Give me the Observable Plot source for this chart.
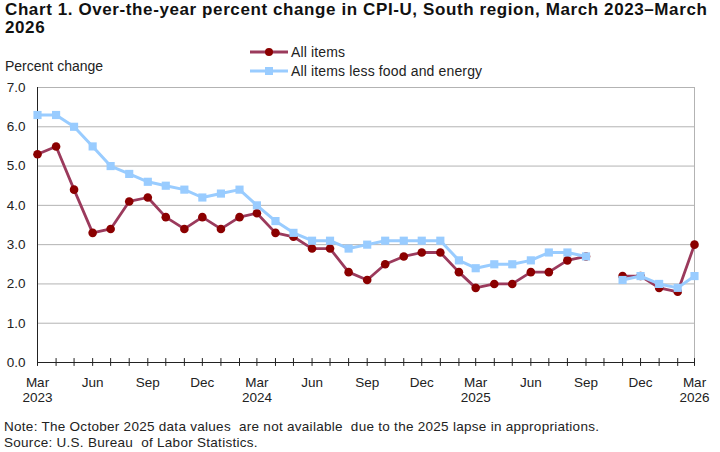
<!DOCTYPE html>
<html>
<head>
<meta charset="utf-8">
<script src="https://cdn.jsdelivr.net/npm/d3@7"></script>
<script src="https://cdn.jsdelivr.net/npm/@observablehq/plot@0.6"></script>
<style>
  body { margin: 0; background: #fff; font-family: "Liberation Sans", Arial, sans-serif; }
  #wrap { position: relative; width: 720px; height: 452px; overflow: hidden; background: #fff; }
  #title { position: absolute; left: 5px; top: 1px; font-weight: bold; font-size: 17px; letter-spacing: 0.6px; line-height: 18px; color: #111; width: 715px; z-index: 2; white-space: nowrap; }
  #chart { position: absolute; left: 0; top: 40px; z-index: 1; }
  .leg { position: absolute; font-size: 14px; letter-spacing: 0.15px; color: #222; white-space: nowrap; z-index: 2; }
  .leg svg { position: absolute; left: 0; top: 0; }
  #ylab { position: absolute; left: 5px; top: 58px; font-size: 14px; color: #222; z-index: 2; }
  #note { position: absolute; left: 4px; top: 419px; font-size: 13.5px; letter-spacing: 0.28px; line-height: 16px; color: #222; white-space: pre; z-index: 2; }
</style>
</head>
<body>
<div id="wrap">
  <div id="title">Chart 1. Over-the-year percent change in CPI-U, South region, March 2023–March<br>2026</div>
  <div id="ylab">Percent change</div>
  <div id="legend"></div>
  <div id="chart"></div>
  <div id="note">Note: The October 2025 data values  are not available  due to the 2025 lapse in appropriations.
Source: U.S. Bureau  of Labor Statistics.</div>
</div>
<script>
const months = ["2023-03","2023-04","2023-05","2023-06","2023-07","2023-08","2023-09","2023-10","2023-11","2023-12",
  "2024-01","2024-02","2024-03","2024-04","2024-05","2024-06","2024-07","2024-08","2024-09","2024-10","2024-11","2024-12",
  "2025-01","2025-02","2025-03","2025-04","2025-05","2025-06","2025-07","2025-08","2025-09","2025-10","2025-11","2025-12",
  "2026-01","2026-02","2026-03"];
const allItems = [5.3,5.5,4.4,3.3,3.4,4.1,4.2,3.7,3.4,3.7,
  3.4,3.7,3.8,3.3,3.2,2.9,2.9,2.3,2.1,2.5,2.7,2.8,
  2.8,2.3,1.9,2.0,2.0,2.3,2.3,2.6,2.7,null,2.2,2.2,
  1.9,1.8,3.0];
const coreItems = [6.3,6.3,6.0,5.5,5.0,4.8,4.6,4.5,4.4,4.2,
  4.3,4.4,4.0,3.6,3.3,3.1,3.1,2.9,3.0,3.1,3.1,3.1,
  3.1,2.6,2.4,2.5,2.5,2.6,2.8,2.8,2.7,null,2.1,2.2,
  2.0,1.9,2.2];
const yTicks = [0,1,2,3,4,5,6,7];
const seriesNames = ["All items","All items less food and energy"];
const colors = {lineRed: "#9b3a5c", dotRed: "#8b0000", blue: "#99ccff"};

const parse = d3.utcParse("%Y-%m");
const dates = months.map(parse);
const red = dates.map((d,i) => ({date: d, value: allItems[i]}));
const blue = dates.map((d,i) => ({date: d, value: coreItems[i]}));
const monthName = d3.utcFormat("%b");
const labelMonths = new Set([2,5,8,11]);

const plot = Plot.plot({
  width: 720,
  height: 370,
  marginLeft: 37,
  marginRight: 26,
  marginTop: 47,
  marginBottom: 48,
  style: {fontFamily: "'Liberation Sans', Arial, sans-serif", fontSize: "13.5px", color: "#222", background: "transparent"},
  x: {type: "utc", domain: [dates[0], dates[dates.length-1]]},
  y: {domain: [0, 7]},
  marks: [
    Plot.ruleY(yTicks.filter(t => t > 0), {stroke: "#b3b3b3", strokeWidth: 1}),
    Plot.ruleX([dates[dates.length-1]], {y1: 0, y2: 7, stroke: "#b3b3b3"}),
    Plot.axisY({ticks: yTicks, tickFormat: d3.format(".1f"), tickSize: 0, tickPadding: 12, label: null, fontSize: 13.5}),
    Plot.axisX({ticks: dates, tickSize: 0, tickPadding: 13, label: null, fontSize: 13.5, lineHeight: 1.15,
      tickFormat: d => {
        const m = d.getUTCMonth();
        if (!labelMonths.has(m)) return "";
        return m === 2 ? monthName(d) + "\n" + d.getUTCFullYear() : monthName(d);
      }}),
    Plot.ruleX(dates, {y1: -0.1, y2: 0.1, stroke: "#222", strokeWidth: 1}),
    Plot.ruleY([0], {stroke: "#222", strokeWidth: 1}),
    Plot.ruleX([dates[0]], {y1: 0, y2: 7, stroke: "#222", strokeWidth: 1}),
    Plot.line(red, {x: "date", y: "value", stroke: colors.lineRed, strokeWidth: 2.8}),
    Plot.dot(red, {x: "date", y: "value", r: 4.3, fill: colors.dotRed, stroke: "none"}),
    Plot.line(blue, {x: "date", y: "value", stroke: colors.blue, strokeWidth: 3}),
    Plot.dot(blue, {x: "date", y: "value", symbol: "square", r: 4.6, fill: colors.blue, stroke: "none"})
  ]
});
document.getElementById("chart").appendChild(plot);

// legend
const leg = document.getElementById("legend");
const legendItems = [
  {name: seriesNames[0], line: colors.lineRed, fill: colors.dotRed, sym: "circle", top: 43},
  {name: seriesNames[1], line: colors.blue, fill: colors.blue, sym: "square", top: 62}
];
legendItems.forEach(it => {
  const div = document.createElement("div");
  div.className = "leg";
  div.style.left = "250px";
  div.style.top = it.top + "px";
  div.style.height = "18px";
  div.style.paddingLeft = "41px";
  const marker = it.sym === "circle"
    ? `<circle cx="19" cy="9" r="4" fill="${it.fill}"/>`
    : `<rect x="15" y="5" width="8" height="8" fill="${it.fill}"/>`;
  div.innerHTML = `<svg width="40" height="18"><line x1="0" x2="38" y1="9" y2="9" stroke="${it.line}" stroke-width="3"/>${marker}</svg><span style="line-height:18px">${it.name}</span>`;
  leg.appendChild(div);
});
</script>
</body>
</html>
